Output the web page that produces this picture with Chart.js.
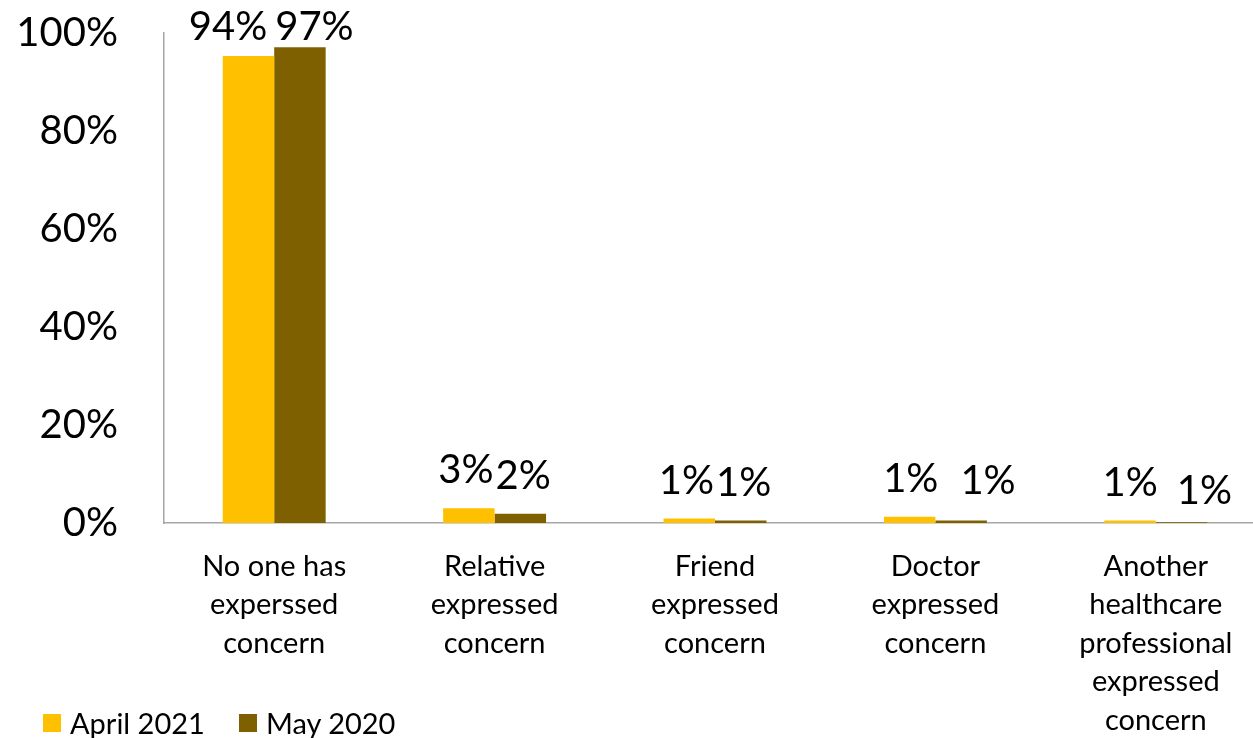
<!DOCTYPE html>
<html>
<head>
<meta charset="utf-8">
<script src="https://cdn.jsdelivr.net/npm/chart.js@4/dist/chart.umd.min.js"></script>
<style>
  html, body { margin: 0; padding: 0; overflow: hidden; background: #fff; }
  #wrap { position: relative; width: 1253px; height: 738px; overflow: hidden; }
  canvas { position: absolute; left: 0; top: 0; }
  #legend { position: absolute; left: 43px; top: 705px; display: flex; align-items: center;
            font-family: Lato, "Open Sans", sans-serif; font-size: 29px; line-height: 35px; color: #000; }
  .item { display: flex; align-items: center; margin-right: 34px; }
  .sw { width: 18px; height: 18px; margin-right: 9px; }
</style>
</head>
<body>
<div id="wrap">
  <canvas id="c" width="1266" height="738"></canvas>
  <div id="legend"></div>
</div>
<script>
const categories = [
  ['No one has', 'experssed', 'concern'],
  ['Relative', 'expressed', 'concern'],
  ['Friend', 'expressed', 'concern'],
  ['Doctor', 'expressed', 'concern'],
  ['Another', 'healthcare', 'professional', 'expressed', 'concern']
];
const seriesNames = ['April 2021', 'May 2020'];
const april2021 = [95.3, 3.0, 0.9, 1.3, 0.5];
const may2020 = [97.1, 1.9, 0.5, 0.5, 0.15];
const aprilLabels = ['94%', '3%', '1%', '1%', '1%'];
const mayLabels = ['97%', '2%', '1%', '1%', '1%'];
const yTicks = [0, 20, 40, 60, 80, 100];

const colors = ['#FFC000', '#7F6000'];
const FONT = 'Lato, "Open Sans", sans-serif';

const valueLabels = {
  id: 'valueLabels',
  afterDatasetsDraw(chart, args, opts) {
    const ctx = chart.ctx;
    ctx.save();
    ctx.font = opts.size + 'px ' + FONT;
    ctx.fillStyle = '#000';
    ctx.textAlign = 'center';
    ctx.textBaseline = 'alphabetic';
    const m0 = chart.getDatasetMeta(0), m1 = chart.getDatasetMeta(1);
    for (let i = 0; i < categories.length; i++) {
      const a = m0.data[i], b = m1.data[i];
      const ta = aprilLabels[i], tb = mayLabels[i];
      const wa = ctx.measureText(ta).width, wb = ctx.measureText(tb).width;
      let ca = a.x, cb = b.x;
      const overlap = (ca + wa / 2 + opts.gap) - (cb - wb / 2);
      if (overlap > 0) { ca -= overlap / 2; cb += overlap / 2; }
      const n = opts.nudge[i] || [0, 0, 0, 0];
      const ya = Math.max(opts.minY, a.y - opts.offset);
      const yb = Math.max(opts.minY, b.y - opts.offset);
      ctx.fillText(ta, ca + n[0], ya + n[1]);
      ctx.fillText(tb, cb + n[2], yb + n[3]);
    }
    ctx.restore();
  }
};

const chart = new Chart(document.getElementById('c'), {
  type: 'bar',
  data: {
    labels: categories,
    datasets: [
      { label: seriesNames[0], data: april2021, backgroundColor: colors[0] },
      { label: seriesNames[1], data: may2020, backgroundColor: colors[1] }
    ]
  },
  options: {
    responsive: false,
    animation: false,
    layout: { padding: { top: 33, left: 0, right: 0, bottom: 0 } },
    datasets: { bar: { categoryPercentage: 0.467, barPercentage: 1.0 } },
    plugins: {
      legend: { display: false },
      tooltip: { enabled: false },
      valueLabels: {
        size: 40, offset: 25, minY: 40, gap: 2,
        nudge: { 0: [-6, 0, 0, 0], 3: [4, 0, 24, -2], 4: [3, 0, 20, 7] }
      }
    },
    scales: {
      x: {
        grid: { display: false, drawTicks: false },
        border: { display: true, color: '#a6a6a6', width: 1.5 },
        ticks: {
          autoSkip: false, maxRotation: 0, minRotation: 0, padding: 24, color: '#000',
          font: { family: FONT, size: 29, lineHeight: 1.33 }
        },
        afterFit(s) { s.height = 215; s.paddingTop = 0; s.paddingBottom = 0; }
      },
      y: {
        min: 0, max: 100,
        afterBuildTicks(s) { s.ticks = yTicks.map(v => ({ value: v })); },
        grid: { display: false, drawTicks: false },
        border: { display: true, color: '#a6a6a6', width: 1.5 },
        ticks: {
          padding: 46, color: '#000',
          font: { family: FONT, size: 40 },
          callback: v => v + '%'
        },
        afterFit(s) { s.width = 164; s.paddingTop = 0; s.paddingBottom = 0; }
      }
    }
  },
  plugins: [valueLabels]
});

const legend = document.getElementById('legend');
chart.data.datasets.forEach(ds => {
  const it = document.createElement('div');
  it.className = 'item';
  const sw = document.createElement('span');
  sw.className = 'sw';
  sw.style.background = ds.backgroundColor;
  const tx = document.createElement('span');
  tx.textContent = ds.label;
  it.appendChild(sw); it.appendChild(tx);
  legend.appendChild(it);
});
</script>
</body>
</html>
